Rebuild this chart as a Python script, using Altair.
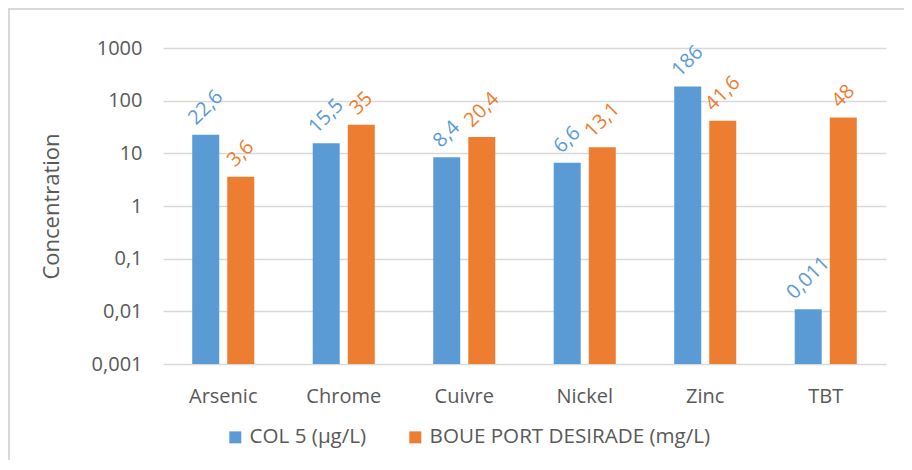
import altair as alt
import pandas as pd

categories = ["Arsenic", "Chrome", "Cuivre", "Nickel", "Zinc", "TBT"]
series_names = ["COL 5 (µg/L)", "BOUE PORT DESIRADE (mg/L)"]
col5_values = [22.6, 15.5, 8.4, 6.6, 186, 0.011]
boue_values = [3.6, 35, 20.4, 13.1, 41.6, 48]
y_ticks = [0.001, 0.01, 0.1, 1, 10, 100, 1000]
colors = ["#5B9BD5", "#ED7D31"]

rows = []
for c, v in zip(categories, col5_values):
    rows.append({"cat": c, "serie": series_names[0], "value": v})
for c, v in zip(categories, boue_values):
    rows.append({"cat": c, "serie": series_names[1], "value": v})
df = pd.DataFrame(rows)

W, H = 723, 316
PL, PT, PR, PB = 155, 40, 18, 96
PX_PER_DEC = H / 6.0

x_enc = alt.X(
    "cat:N", sort=categories,
    scale=alt.Scale(paddingInner=0.485, paddingOuter=0.2425),
    axis=alt.Axis(title=None, labelAngle=0, ticks=False, domain=False,
                  labelPadding=22, labelFontSize=20, labelColor="#595959",
                  grid=False),
)
xoff = alt.XOffset("serie:N", sort=series_names,
                   scale=alt.Scale(paddingInner=0.23, paddingOuter=0))
color = alt.Color(
    "serie:N", sort=series_names,
    scale=alt.Scale(domain=series_names, range=colors),
    legend=alt.Legend(title=None, orient="none", legendX=62, legendY=379,
                      direction="horizontal", symbolType="square",
                      symbolSize=144, symbolStrokeWidth=0,
                      labelFontSize=20.6, labelColor="#595959", labelLimit=500,
                      columnPadding=38, labelOffset=4, padding=0),
)
y_scale = alt.Scale(type="log", domain=[0.001, 1000], nice=False)

bars = alt.Chart(df).mark_bar().encode(
    x=x_enc,
    xOffset=xoff,
    y=alt.Y("value:Q", scale=y_scale,
            axis=alt.Axis(values=y_ticks, grid=True, gridColor="#D9D9D9",
                          gridWidth=1.5, ticks=False, domain=False,
                          labelExpr="replace(format(datum.value, ''), '.', ',')",
                          labelFontSize=20, labelColor="#595959",
                          labelPadding=21, title="Concentration",
                          titleFontSize=22, titleColor="#595959",
                          titleFontWeight="normal", titlePadding=28)),
    y2=alt.datum(0.001),
    color=color,
)

labels = alt.Chart(df).transform_calculate(
    lbl="replace(format(datum.value, ''), '.', ',')"
).transform_calculate(
    hascomma="indexof(datum.lbl, ',') >= 0 ? 1 : 0"
).transform_calculate(
    tw="(length(datum.lbl) - datum.hascomma) * 11.44 + datum.hascomma * 5.2"
).transform_calculate(
    ly=f"datum.value * pow(10, (8 + (datum.tw + 14.3) * 0.7071 / 2) / {PX_PER_DEC})"
).mark_text(angle=315, align="center", baseline="middle", fontSize=20).encode(
    x=alt.X("cat:N", sort=categories),
    xOffset=alt.XOffset("serie:N", sort=series_names),
    y=alt.Y("ly:Q", scale=y_scale),
    text="lbl:N",
    color=alt.Color("serie:N", sort=series_names),
)

frame_df = pd.DataFrame({"k": [0]})
left_line = alt.Chart(frame_df).mark_rule(color="#D9D9D9", strokeWidth=2).encode(
    x=alt.value(-PL + 1), y=alt.value(-PT), y2=alt.value(H + PB)
)
top_line = alt.Chart(frame_df).mark_rule(color="#D9D9D9", strokeWidth=2).encode(
    y=alt.value(-PT + 1), x=alt.value(-PL), x2=alt.value(W + PR)
)

chart = alt.layer(bars, labels, left_line, top_line).properties(
    width=W, height=H,
    autosize=alt.AutoSizeParams(type="none"),
    padding={"left": PL, "top": PT, "right": PR, "bottom": PB},
).configure(font="Open Sans").configure_view(stroke=None)

chart.save("out.html", embed_options={"renderer": "svg", "actions": False})
